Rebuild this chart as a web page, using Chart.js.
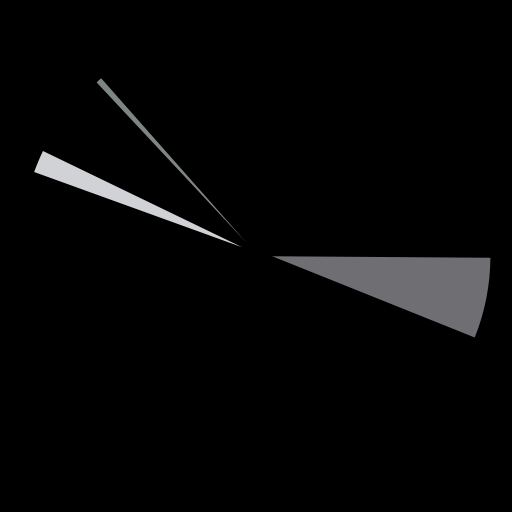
<!DOCTYPE html>
<html>
<head>
<meta charset="utf-8">
<script src="https://cdn.jsdelivr.net/npm/chart.js@4"></script>
<style>
  html, body { margin: 0; padding: 0; background: #000; }
  #wrap { width: 512px; height: 512px; }
</style>
</head>
<body>
<div id="wrap"><canvas id="c" width="512" height="512"></canvas></div>
<script>
const categories = ["A", "B", "C", "D", "E", "F", "G"];
const values = [90, 22.3, 177, 7, 20.1, 2.6, 41];
const colors = ["#000000", "#6f6e73", "#000000", "#d1d2d6", "#000000", "#7e8683", "#000000"];
const offsets = [0, 66, 0, 60, 0, 52, 0];

new Chart(document.getElementById("c"), {
  type: "pie",
  data: {
    labels: categories,
    datasets: [{
      data: values,
      backgroundColor: colors,
      borderWidth: 0,
      offset: offsets
    }]
  },
  options: {
    responsive: false,
    animation: false,
    radius: 208,
    layout: { padding: { top: 0, bottom: 6, left: 0, right: 0 } },
    plugins: { legend: { display: false }, tooltip: { enabled: false } }
  }
});
</script>
</body>
</html>
